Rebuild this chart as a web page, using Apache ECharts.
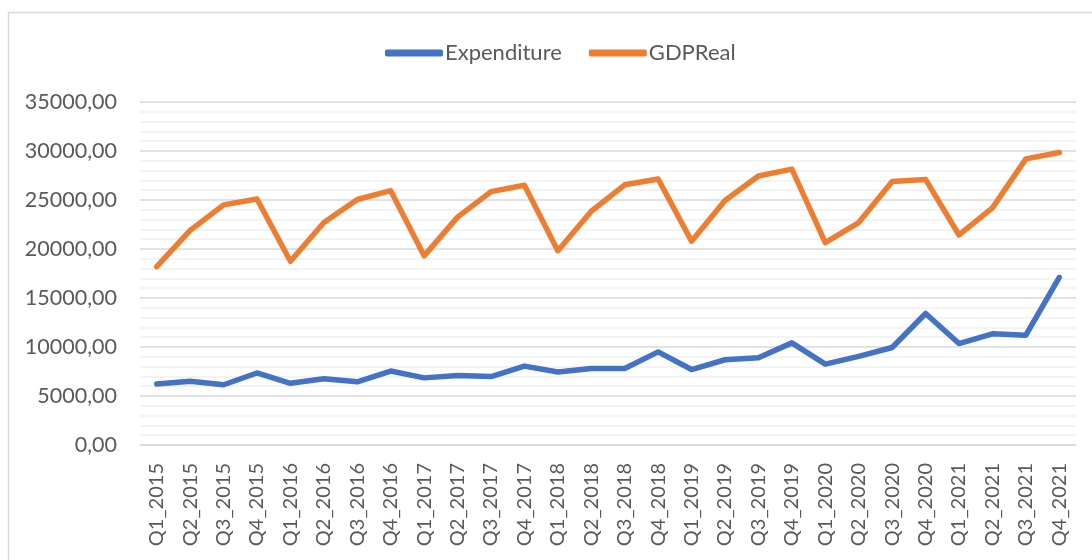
<!DOCTYPE html>
<html>
<head>
<meta charset="utf-8">
<script src="https://cdn.jsdelivr.net/npm/echarts@6/dist/echarts.min.js"></script>
<style>
  html, body { margin: 0; padding: 0; background: #fff; }
  #chart { width: 1092px; height: 560px; }
</style>
</head>
<body>
<div id="chart"></div>
<script>
const quarters = [
  'Q1_2015', 'Q2_2015', 'Q3_2015', 'Q4_2015',
  'Q1_2016', 'Q2_2016', 'Q3_2016', 'Q4_2016',
  'Q1_2017', 'Q2_2017', 'Q3_2017', 'Q4_2017',
  'Q1_2018', 'Q2_2018', 'Q3_2018', 'Q4_2018',
  'Q1_2019', 'Q2_2019', 'Q3_2019', 'Q4_2019',
  'Q1_2020', 'Q2_2020', 'Q3_2020', 'Q4_2020',
  'Q1_2021', 'Q2_2021', 'Q3_2021', 'Q4_2021',
]

const expenditure = [
  6220, 6500, 6150, 7350,
  6300, 6750, 6450, 7550,
  6850, 7100, 6980, 8050,
  7450, 7800, 7800, 9500,
  7700, 8700, 8900, 10420,
  8250, 9050, 9950, 13420,
  10350, 11350, 11200, 17100,
]

const gdpReal = [
  18200, 21900, 24500, 25100,
  18750, 22700, 25050, 25950,
  19300, 23250, 25850, 26500,
  19830, 23850, 26550, 27150,
  20800, 24950, 27450, 28150,
  20650, 22700, 26880, 27100,
  21430, 24200, 29200, 29850,
]

const yMin = 0
const yMax = 35000
const yStep = 5000

const textColor = '#595959'
const font = 'Lato, "Liberation Sans", sans-serif'

var chart = echarts.init(document.getElementById('chart'))
chart.setOption({
  animation: false,
  graphic: [
    {
      type: 'rect',
      shape: { x: 8.5, y: 12.5, width: 1200, height: 700 },
      style: { fill: 'none', stroke: '#d9d9d9', lineWidth: 1.5 },
      silent: true,
    },
  ],
  legend: {
    top: 37,
    left: 380,
    icon: 'roundRect',
    itemWidth: 58,
    itemHeight: 7,
    itemGap: 27,
    textStyle: { color: textColor, fontSize: 22, fontFamily: font, padding: [0, 0, 0, -3] },
  },
  grid: {
    left: 140,
    right: 16,
    top: 102,
    bottom: 115,
  },
  xAxis: {
    type: 'category',
    data: quarters,
    boundaryGap: true,
    axisLine: { lineStyle: { color: '#d9d9d9', width: 1.5 } },
    axisTick: { show: false },
    axisLabel: {
      rotate: 90,
      interval: 0,
      margin: 18,
      color: textColor,
      fontSize: 20,
      fontFamily: font,
    },
  },
  yAxis: {
    type: 'value',
    min: yMin,
    max: yMax,
    interval: yStep,
    axisLine: { show: false },
    axisTick: { show: false },
    axisLabel: {
      margin: 23,
      color: textColor,
      fontSize: 21.5,
      fontFamily: font,
      formatter: v => v.toFixed(2).replace('.', ','),
    },
    splitLine: { lineStyle: { color: '#d9d9d9', width: 1.5 } },
    minorTick: { show: false, splitNumber: 5 },
    minorSplitLine: { show: true, lineStyle: { color: '#efefef', width: 1.5 } },
  },
  series: [
    {
      name: 'Expenditure',
      type: 'line',
      data: expenditure,
      showSymbol: false,
      color: '#4472C4',
      lineStyle: { width: 5.5, cap: 'round', join: 'round' },
    },
    {
      name: 'GDPReal',
      type: 'line',
      data: gdpReal,
      showSymbol: false,
      color: '#ED7D31',
      lineStyle: { width: 5.5, cap: 'round', join: 'round' },
    },
  ],
})
</script>
</body>
</html>
